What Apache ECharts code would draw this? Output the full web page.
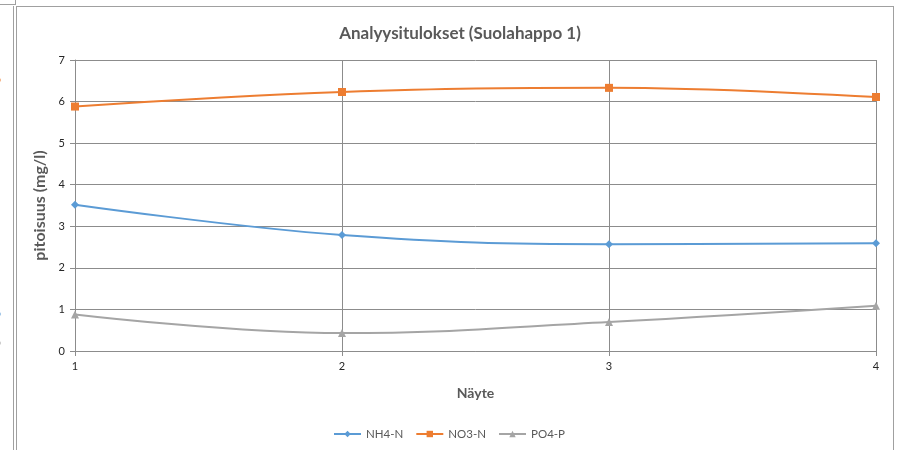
<!DOCTYPE html>
<html>
<head>
<meta charset="utf-8">
<script src="https://cdn.jsdelivr.net/npm/echarts@6/dist/echarts.min.js"></script>
<style>
  html, body { margin: 0; padding: 0; background: #fff; }
  #chart { width: 898px; height: 450px; }
</style>
</head>
<body>
<div id="chart"></div>
<script>
// Sample numbers (Näyte) and measured concentrations, mg/l
const samples = [1, 2, 3, 4];
const nh4 = [3.52, 2.79, 2.57, 2.59];
const no3 = [5.88, 6.23, 6.33, 6.11];
const po4 = [0.88, 0.43, 0.70, 1.09];
const seriesNames = ['NH4-N', 'NO3-N', 'PO4-P'];

const FONT = 'Lato, "Open Sans", sans-serif';
const pair = (vals) => samples.map((s, i) => [s, vals[i]]);

const chart = echarts.init(document.getElementById('chart'), null, { renderer: 'canvas' });

const gridColor = '#8c8c8c';

chart.setOption({
  animation: false,
  backgroundColor: '#ffffff',
  title: {
    text: 'Analyysitulokset (Suolahappo 1)',
    left: 455, top: 20, textAlign: 'center',
    textStyle: { fontFamily: FONT, fontSize: 17, fontWeight: 'bold', color: '#595959' }
  },
  legend: {
    data: seriesNames,
    bottom: 5, left: 'center',
    itemWidth: 27, itemHeight: 8, itemGap: 12,
    textStyle: { fontFamily: FONT, fontSize: 11.5, color: '#595959' }
  },
  grid: { left: 75, right: 22, top: 60, bottom: 99 },
  xAxis: {
    type: 'value', min: 1, max: 4, interval: 1,
    name: 'Näyte', nameLocation: 'middle', nameGap: 35,
    nameTextStyle: { fontFamily: FONT, fontSize: 14, fontWeight: 'bold', color: '#595959' },
    axisLine: { show: true, lineStyle: { color: gridColor, width: 1 } },
    axisTick: { show: true, length: 5, lineStyle: { color: gridColor } },
    axisLabel: { fontFamily: FONT, fontSize: 11, color: '#262626', margin: 10 },
    splitLine: { show: true, lineStyle: { color: gridColor, width: 1 } }
  },
  yAxis: {
    type: 'value', min: 0, max: 7, interval: 1,
    name: 'pitoisuus (mg/l)', nameLocation: 'middle', nameGap: 20,
    nameTextStyle: { fontFamily: FONT, fontSize: 16, fontWeight: 'bold', color: '#595959' },
    axisLine: { show: true, lineStyle: { color: gridColor, width: 1 } },
    axisTick: { show: true, length: 5, lineStyle: { color: gridColor } },
    axisLabel: { fontFamily: FONT, fontSize: 11, color: '#262626', margin: 10 },
    splitLine: { show: true, lineStyle: { color: gridColor, width: 1 } }
  },
  series: [
    {
      name: seriesNames[0], type: 'line', smooth: 0.4, data: pair(nh4),
      symbol: 'diamond', symbolSize: 8,
      itemStyle: { color: '#5B9BD5' }, lineStyle: { color: '#5B9BD5', width: 2 }
    },
    {
      name: seriesNames[1], type: 'line', smooth: 0.4, data: pair(no3),
      symbol: 'rect', symbolSize: 8,
      itemStyle: { color: '#ED7D31' }, lineStyle: { color: '#ED7D31', width: 2 }
    },
    {
      name: seriesNames[2], type: 'line', smooth: 0.4, data: pair(po4),
      symbol: 'triangle', symbolSize: 8,
      itemStyle: { color: '#A5A5A5' }, lineStyle: { color: '#A5A5A5', width: 2 }
    }
  ],
  graphic: [
    // window frame around the chart
    { type: 'line', shape: { x1: 16, y1: 6.5, x2: 894, y2: 6.5 }, style: { stroke: '#a0a0a0', lineWidth: 1 } },
    { type: 'line', shape: { x1: 13.5, y1: 6, x2: 13.5, y2: 450 }, style: { stroke: '#a0a0a0', lineWidth: 1 } },
    { type: 'line', shape: { x1: 16.5, y1: 6, x2: 16.5, y2: 450 }, style: { stroke: '#a0a0a0', lineWidth: 1 } },
    { type: 'line', shape: { x1: 893.5, y1: 6, x2: 893.5, y2: 450 }, style: { stroke: '#a0a0a0', lineWidth: 1 } },
    { type: 'line', shape: { x1: 0, y1: 4.5, x2: 15, y2: 4.5 }, style: { stroke: '#a0a0a0', lineWidth: 1 } },
    { type: 'line', shape: { x1: 15.5, y1: 0, x2: 15.5, y2: 5 }, style: { stroke: '#a0a0a0', lineWidth: 1 } },
    // clipped marks at the left edge
    { type: 'circle', shape: { cx: -1, cy: 80, r: 2 }, style: { fill: '#f4b183' } },
    { type: 'circle', shape: { cx: -1, cy: 314, r: 2 }, style: { fill: '#9dc3e6' } },
    { type: 'circle', shape: { cx: -1, cy: 343, r: 2 }, style: { fill: '#c9c9c9' } }
  ]
});
</script>
</body>
</html>
